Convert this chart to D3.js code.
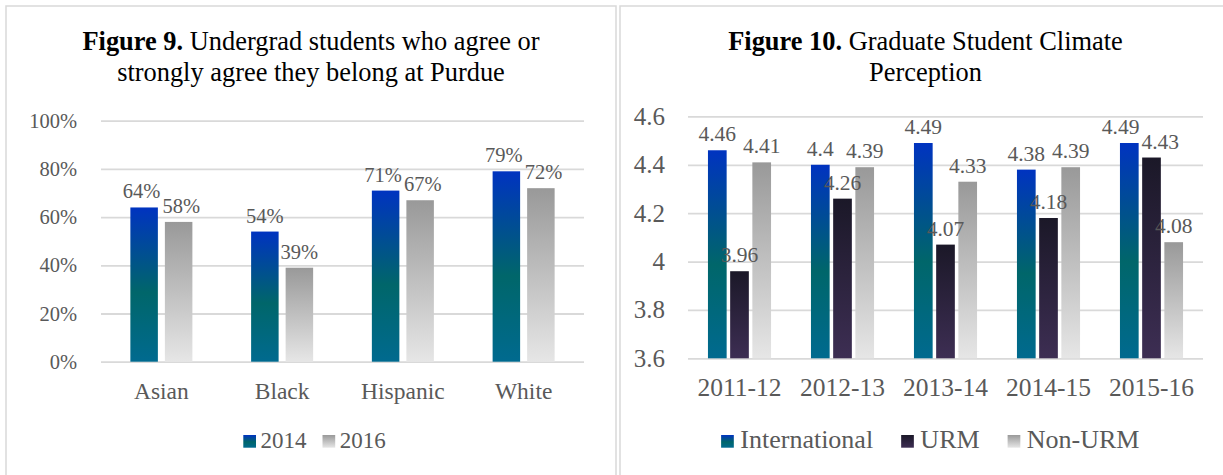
<!DOCTYPE html>
<html>
<head>
<meta charset="utf-8">
<script src="https://cdn.jsdelivr.net/npm/d3@7"></script>
<style>
  body { margin: 0; background: #fff; }
  svg text { font-family: "Liberation Serif", "Times New Roman", serif !important; }
</style>
</head>
<body>
<svg id="chart"></svg>
<script>
// figure 9 data
let ugCategories = ['Asian', 'Black', 'Hispanic', 'White']
let ugSeries = ['2014', '2016']
let ug2014 = [64, 54, 71, 79]
let ug2016 = [58, 39, 67, 72]
let ugTicks = [0, 20, 40, 60, 80, 100]

// figure 10 data
let gradYears = ['2011-12', '2012-13', '2013-14', '2014-15', '2015-16']
let gradSeries = ['International', 'URM', 'Non-URM']
let gradIntl = [4.46, 4.40, 4.49, 4.38, 4.49]
let gradURM = [3.96, 4.26, 4.07, 4.18, 4.43]
let gradNonURM = [4.41, 4.39, 4.33, 4.39, 4.08]
let gradTicks = [3.6, 3.8, 4.0, 4.2, 4.4, 4.6]

let svgWidth = 1223, svgHeight = 475
let gridColor = '#d9d9d9', textColor = '#595959'
let serif = '"Liberation Serif", "Times New Roman", serif'

let svg = d3.select('#chart').attr('width', svgWidth).attr('height', svgHeight)

// gradients (one per series look)
let defs = svg.append('defs')
const addGradient = (id, stops) => {
  let lg = defs.append('linearGradient').attr('id', id)
    .attr('x1', 0).attr('y1', 0).attr('x2', 0).attr('y2', 1)
  stops.forEach(s => lg.append('stop').attr('offset', s[0]).attr('stop-color', s[1]))
}
addGradient('gBlue', [[0, '#0033c0'], [0.55, '#00666a'], [1, '#006a8f']])
addGradient('gGray', [[0, '#999999'], [1, '#e6e6e6']])
addGradient('gPurple', [[0, '#1b1828'], [1, '#3d2e53']])

// panel frames
svg.append('rect').attr('x', 6).attr('y', 6).attr('width', 610).attr('height', 500)
  .attr('fill', 'none').attr('stroke', gridColor).attr('stroke-width', 1.5)
svg.append('rect').attr('x', 620).attr('y', 6).attr('width', 640).attr('height', 500)
  .attr('fill', 'none').attr('stroke', gridColor).attr('stroke-width', 1.5)

function drawTitle(cx, boldPart, lines, size) {
  lines.forEach((line, i) => {
    let t = svg.append('text').attr('x', cx).attr('y', 49.5 + i * 31.5)
      .attr('text-anchor', 'middle').attr('font-size', size).attr('fill', '#000')
    if (i === 0) t.append('tspan').attr('font-weight', 'bold').text(boldPart + ' ')
    t.append('tspan').text(line)
  })
}

function drawLegend(cx, names, fills, size, gapText, gapItem) {
  let lg = svg.append('g')
  let x = 0
  names.forEach((n, i) => {
    lg.append('rect').attr('x', x).attr('y', 435).attr('width', 12.7).attr('height', 12.7)
      .attr('fill', `url(#${fills[i]})`)
    let t = lg.append('text').attr('x', x + 12.7 + gapText).attr('y', 448)
      .attr('font-size', size).attr('fill', textColor).text(n)
    x += 12.7 + gapText + t.node().getComputedTextLength() + gapItem
  })
  let w = x - gapItem
  lg.attr('transform', `translate(${cx - w / 2},0)`)
}

// push apart neighbouring value labels that collide, like Excel does
function spreadLabels(nodes) {
  for (let i = 0; i < nodes.length - 1; i++) {
    let a = nodes[i], b = nodes[i + 1]
    let ba = a.getBBox(), bb = b.getBBox()
    let overlapX = ba.x + ba.width + 2 - bb.x
    let overlapY = Math.min(ba.y + ba.height, bb.y + bb.height) - Math.max(ba.y, bb.y)
    if (overlapX > 0 && overlapY > 0) {
      a.setAttribute('x', +a.getAttribute('x') - overlapX / 2)
      b.setAttribute('x', +b.getAttribute('x') + overlapX / 2)
    }
  }
}

function drawBars(cfg) {
  let { left, right, top, bottom, cats, series, values, fills, yDomain, ticks, tickFmt,
        labelFmt, tickSize, catSize, labelSize, pIn, pOut, tickPad } = cfg
  let g = svg.append('g')
  let x0 = d3.scaleBand().domain(cats).range([left, right])
  let x1 = d3.scaleBand().domain(series).range([0, x0.bandwidth()])
    .paddingInner(pIn).paddingOuter(pOut)
  let y = d3.scaleLinear().domain(yDomain).range([bottom, top])

  let yAxis = d3.axisLeft(y).tickValues(ticks).tickFormat(tickFmt)
    .tickSizeInner(-(right - left)).tickSizeOuter(0).tickPadding(tickPad)
  let ya = g.append('g').attr('transform', `translate(${left},0)`).call(yAxis)
    .attr('font-family', serif)
  ya.select('.domain').remove()
  ya.selectAll('line').attr('stroke', gridColor).attr('stroke-width', 1.8)
  ya.selectAll('text').attr('font-size', tickSize).attr('fill', textColor)
    .style('font-family', serif)

  let xAxis = d3.axisBottom(x0).tickSize(0).tickPadding(0)
  let xa = g.append('g').attr('transform', `translate(0,${bottom})`).call(xAxis)
    .attr('font-family', serif)
  xa.select('.domain').remove()
  xa.selectAll('text').attr('dy', null).attr('y', 37.8).attr('font-size', catSize)
    .attr('fill', textColor).style('font-family', serif)

  let rows = cats.map((c, i) => ({ cat: c, vals: series.map((s, j) => ({ s, j, v: values[j][i] })) }))
  let groups = g.selectAll('.grp').data(rows).enter().append('g')
    .attr('transform', d => `translate(${x0(d.cat)},0)`)
  groups.selectAll('rect').data(d => d.vals).enter().append('rect')
    .attr('x', d => x1(d.s)).attr('width', x1.bandwidth())
    .attr('y', d => y(d.v)).attr('height', d => bottom - y(d.v))
    .attr('fill', d => `url(#${fills[d.j]})`)
  groups.each(function () {
    let lbls = d3.select(this).selectAll('text.lbl').data(d => d.vals).enter().append('text')
      .attr('class', 'lbl')
      .attr('x', d => x1(d.s) + x1.bandwidth() / 2).attr('y', d => y(d.v) - 9)
      .attr('text-anchor', 'middle').attr('font-size', labelSize).attr('fill', textColor)
      .style('font-family', serif)
      .text(d => labelFmt(d.v))
    spreadLabels(lbls.nodes())
  })
}

// Figure 9
drawTitle(311, 'Figure 9.', ['Undergrad students who agree or', 'strongly agree they belong at Purdue'], 26.4)
drawBars({
  left: 101, right: 584, top: 120.7, bottom: 361.7,
  cats: ugCategories, series: ugSeries, values: [ug2014, ug2016], fills: ['gBlue', 'gGray'],
  yDomain: [0, 100], ticks: ugTicks, tickFmt: d => d + '%', labelFmt: d => d + '%',
  tickSize: 20.5, catSize: 23.5, labelSize: 20.5, pIn: 0.203, pOut: 0.851, tickPad: 24
})
drawLegend(314.5, ugSeries, ['gBlue', 'gGray'], 23, 4.5, 16)

// Figure 10
drawTitle(925.5, 'Figure 10.', ['Graduate Student Climate', 'Perception'], 26.4)
drawBars({
  left: 688, right: 1203, top: 116.4, bottom: 358.3,
  cats: gradYears, series: gradSeries, values: [gradIntl, gradURM, gradNonURM],
  fills: ['gBlue', 'gPurple', 'gGray'],
  yDomain: [3.6, 4.6], ticks: gradTicks, tickFmt: d => String(+d.toFixed(1)), labelFmt: d => String(d),
  tickSize: 25, catSize: 25.5, labelSize: 21.5, pIn: 0.158, pOut: 0.899, tickPad: 23
})
drawLegend(930.3, gradSeries, ['gBlue', 'gPurple', 'gGray'], 26, 6.5, 28)
</script>
</body>
</html>
